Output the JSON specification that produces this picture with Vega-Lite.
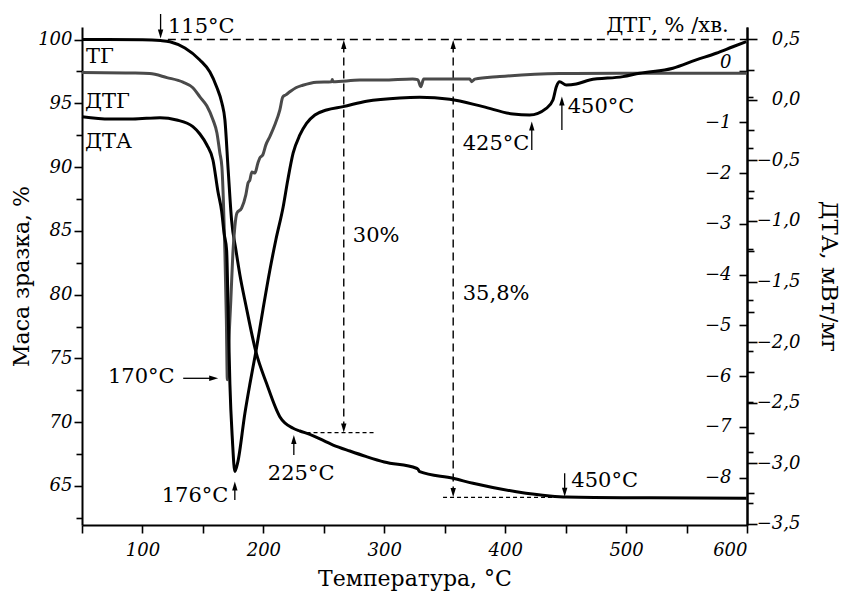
{
  "$schema": "https://vega.github.io/schema/vega-lite/v6.json",
  "width": 665,
  "height": 498,
  "autosize": {"type": "none"},
  "padding": {"left": 82, "top": 27, "right": 95, "bottom": 68},
  "background": "white",
  "datasets": {
    "tg": [
      {"T": 50, "m": 100.0}, {"T": 100, "m": 99.98}, {"T": 115, "m": 99.92}, {"T": 122.7, "m": 99.83},
      {"T": 135.1, "m": 99.33}, {"T": 147.5, "m": 98.39}, {"T": 155.8, "m": 97.45}, {"T": 161.3, "m": 96.3},
      {"T": 165.7, "m": 95.02}, {"T": 168.2, "m": 93.69}, {"T": 170.9, "m": 89.77}, {"T": 173.7, "m": 85.85},
      {"T": 177.3, "m": 83.5}, {"T": 180.6, "m": 81.54}, {"T": 185.5, "m": 79.19}, {"T": 193.8, "m": 75.53},
      {"T": 202.6, "m": 73.05}, {"T": 213.6, "m": 70.43}, {"T": 224.6, "m": 69.52}, {"T": 230.2, "m": 69.31},
      {"T": 238.4, "m": 69.05}, {"T": 257.7, "m": 68.21}, {"T": 271.5, "m": 67.74}, {"T": 285.3, "m": 67.3},
      {"T": 300.0, "m": 66.88}, {"T": 326.6, "m": 66.39}, {"T": 327.7, "m": 66.33}, {"T": 329.3, "m": 66.12},
      {"T": 356.9, "m": 65.6}, {"T": 373.4, "m": 65.21}, {"T": 409.3, "m": 64.55}, {"T": 436.9, "m": 64.22},
      {"T": 450.6, "m": 64.14}, {"T": 519.4, "m": 64.07}, {"T": 599.6, "m": 64.04}
    ],
    "dtg": [
      {"T": 50, "d": -0.02}, {"T": 89.7, "d": -0.03}, {"T": 106, "d": -0.04}, {"T": 120.2, "d": -0.12},
      {"T": 133.5, "d": -0.21}, {"T": 141.7, "d": -0.32}, {"T": 147.5, "d": -0.5}, {"T": 153.3, "d": -0.68},
      {"T": 158.3, "d": -0.95}, {"T": 161.6, "d": -1.21}, {"T": 164, "d": -1.6}, {"T": 165.7, "d": -1.88},
      {"T": 167, "d": -2.59}, {"T": 168.2, "d": -3.57}, {"T": 169.4, "d": -4.89}, {"T": 170.2, "d": -6.07},
      {"T": 171.5, "d": -5.29}, {"T": 173.1, "d": -4.5}, {"T": 174.8, "d": -3.57}, {"T": 176.4, "d": -3.06},
      {"T": 178.1, "d": -2.79}, {"T": 182, "d": -2.69}, {"T": 185.5, "d": -2.43}, {"T": 187.4, "d": -2.19},
      {"T": 188.8, "d": -2.14}, {"T": 190.5, "d": -1.98}, {"T": 193, "d": -2.0}, {"T": 195.5, "d": -1.8},
      {"T": 197.1, "d": -1.7}, {"T": 199.6, "d": -1.64}, {"T": 202, "d": -1.45}, {"T": 205.4, "d": -1.28},
      {"T": 209.5, "d": -1.05}, {"T": 213.6, "d": -0.76}, {"T": 216.1, "d": -0.5}, {"T": 218.6, "d": -0.46},
      {"T": 221.9, "d": -0.4}, {"T": 226.9, "d": -0.32}, {"T": 232.6, "d": -0.27}, {"T": 244, "d": -0.21},
      {"T": 256.4, "d": -0.2}, {"T": 257, "d": -0.16}, {"T": 257.6, "d": -0.2}, {"T": 279.8, "d": -0.17},
      {"T": 298.8, "d": -0.17}, {"T": 323.5, "d": -0.15}, {"T": 327.7, "d": -0.16}, {"T": 330.2, "d": -0.3},
      {"T": 332.6, "d": -0.15}, {"T": 345.9, "d": -0.15}, {"T": 370.7, "d": -0.15}, {"T": 372.3, "d": -0.2},
      {"T": 374.8, "d": -0.15}, {"T": 395.5, "d": -0.1}, {"T": 445, "d": -0.04}, {"T": 494.6, "d": -0.035},
      {"T": 600, "d": -0.035}
    ],
    "dta": [
      {"T": 50, "a": -0.138}, {"T": 73.1, "a": -0.157}, {"T": 92.1, "a": -0.157}, {"T": 114.5, "a": -0.146},
      {"T": 128.3, "a": -0.165}, {"T": 141.7, "a": -0.221}, {"T": 147.5, "a": -0.281}, {"T": 153.3, "a": -0.372},
      {"T": 158.3, "a": -0.496}, {"T": 162.5, "a": -0.76}, {"T": 165.5, "a": -0.92}, {"T": 167.5, "a": -1.1},
      {"T": 169.6, "a": -1.24}, {"T": 171, "a": -1.8}, {"T": 172.3, "a": -2.34}, {"T": 174.4, "a": -2.81},
      {"T": 176.4, "a": -3.07}, {"T": 178.9, "a": -2.99}, {"T": 184.7, "a": -2.59}, {"T": 188.8, "a": -2.35},
      {"T": 193.8, "a": -2.08}, {"T": 199.6, "a": -1.735}, {"T": 205.4, "a": -1.405}, {"T": 210.3, "a": -1.157},
      {"T": 216.4, "a": -0.882}, {"T": 220.2, "a": -0.661}, {"T": 224.6, "a": -0.44}, {"T": 230.2, "a": -0.289},
      {"T": 235.7, "a": -0.193}, {"T": 242.6, "a": -0.124}, {"T": 252.2, "a": -0.083}, {"T": 266, "a": -0.055},
      {"T": 285.3, "a": -0.01}, {"T": 312.8, "a": 0.017}, {"T": 329.3, "a": 0.022}, {"T": 354.1, "a": 0.006},
      {"T": 381.7, "a": -0.055}, {"T": 406.5, "a": -0.116}, {"T": 420.2, "a": -0.124}, {"T": 434, "a": -0.069},
      {"T": 439.5, "a": 0.0}, {"T": 442.3, "a": 0.11}, {"T": 445, "a": 0.151}, {"T": 450.5, "a": 0.124},
      {"T": 458.8, "a": 0.132}, {"T": 469.8, "a": 0.165}, {"T": 497.4, "a": 0.193}, {"T": 511.2, "a": 0.221},
      {"T": 538.7, "a": 0.262}, {"T": 558, "a": 0.331}, {"T": 574.5, "a": 0.386}, {"T": 588.3, "a": 0.44},
      {"T": 599.3, "a": 0.482}
    ],
    "dashLong": [
      {"T": 121, "m": 100, "T2": 600, "m2": 100},
      {"T": 266.5, "m": 99.61, "T2": 266.5, "m2": 69.54},
      {"T": 357, "m": 99.61, "T2": 357, "m2": 64.49}
    ],
    "dashShort": [
      {"T": 235.7, "m": 69.18, "T2": 292, "m2": 69.18},
      {"T": 348.6, "m": 64.11, "T2": 450.6, "m2": 64.11}
    ],
    "arrows": [
      {"T": 115, "m": 102.0, "T2": 115, "m2": 100.43},
      {"T": 422, "m": 91.34, "T2": 422, "m2": 93.21},
      {"T": 446.9, "m": 92.91, "T2": 446.9, "m2": 95.17},
      {"T": 449.2, "m": 66.0, "T2": 449.2, "m2": 64.51},
      {"T": 133.7, "m": 73.44, "T2": 158.9, "m2": 73.44},
      {"T": 176.4, "m": 63.9, "T2": 176.4, "m2": 64.99},
      {"T": 225.2, "m": 67.43, "T2": 225.2, "m2": 68.65}
    ],
    "heads": [
      {"T": 115, "m": 100.43, "dir": "down"},
      {"T": 266.5, "m": 99.61, "dir": "up"},
      {"T": 266.5, "m": 69.54, "dir": "down"},
      {"T": 357, "m": 99.61, "dir": "up"},
      {"T": 357, "m": 64.49, "dir": "down"},
      {"T": 422, "m": 93.21, "dir": "up"},
      {"T": 446.9, "m": 95.17, "dir": "up"},
      {"T": 449.2, "m": 64.51, "dir": "down"},
      {"T": 158.9, "m": 73.44, "dir": "right"},
      {"T": 176.4, "m": 64.99, "dir": "up"},
      {"T": 225.2, "m": 68.65, "dir": "up"}
    ],
    "labels": [
      {"T": 121.1, "m": 100.5, "label": "115°C"},
      {"T": 53.3, "m": 98.16, "label": "ТГ"},
      {"T": 52.5, "m": 94.63, "label": "ДТГ"},
      {"T": 52.5, "m": 91.5, "label": "ДТА"},
      {"T": 274, "m": 84.1, "label": "30%"},
      {"T": 364.9, "m": 79.6, "label": "35,8%"},
      {"T": 364.9, "m": 91.34, "label": "425°C"},
      {"T": 451.7, "m": 94.24, "label": "450°C"},
      {"T": 454.7, "m": 64.92, "label": "450°C"},
      {"T": 203.7, "m": 65.47, "label": "225°C"},
      {"T": 71.5, "m": 73.07, "label": "170°C"},
      {"T": 115.9, "m": 63.75, "label": "176°C"},
      {"T": 483.6, "m": 100.59, "label": "ДТГ, % /хв."}
    ]
  },
  "encoding": {
    "x": {
      "field": "T",
      "type": "quantitative",
      "scale": {"domain": [50, 600], "nice": false, "zero": false},
      "axis": {
        "title": "Температура, °С",
        "values": [50, 100, 150, 200, 250, 300, 350, 400, 450, 500, 550, 600],
        "labelExpr": "datum.value % 100 === 0 ? format(datum.value, 'd') : ''",
        "tickSize": 8,
        "labelPadding": 8,
        "titlePadding": 9
      }
    }
  },
  "layer": [
    {
      "encoding": {
        "y": {
          "field": "m",
          "type": "quantitative",
          "scale": {"domain": [61.94, 100.98], "nice": false, "zero": false},
          "axis": {
            "title": "Маса зразка, %",
            "values": [62.5, 65, 67.5, 70, 72.5, 75, 77.5, 80, 82.5, 85, 87.5, 90, 92.5, 95, 97.5, 100],
            "labelExpr": "datum.value % 5 === 0 ? format(datum.value, 'd') : ''",
            "tickSize": {"condition": {"test": "datum.value % 5 !== 0", "value": 6}, "value": 8},
            "labelPadding": 2,
            "titlePadding": 4
          }
        }
      },
      "layer": [
        {"data": {"name": "tg"}, "mark": {"type": "line", "color": "black", "strokeWidth": 3, "interpolate": "monotone"}},
        {"data": {"name": "dashLong"}, "mark": {"type": "rule", "color": "black", "strokeWidth": 1.4, "strokeDash": [8, 5]},
         "encoding": {"x2": {"field": "T2"}, "y2": {"field": "m2"}}},
        {"data": {"name": "dashShort"}, "mark": {"type": "rule", "color": "black", "strokeWidth": 1.2, "strokeDash": [4, 3]},
         "encoding": {"x2": {"field": "T2"}, "y2": {"field": "m2"}}},
        {"data": {"name": "arrows"}, "mark": {"type": "rule", "color": "black", "strokeWidth": 1.3},
         "encoding": {"x2": {"field": "T2"}, "y2": {"field": "m2"}}},
        {"data": {"name": "heads"}, "mark": {"type": "point", "filled": true, "color": "black", "opacity": 1, "size": 81, "strokeWidth": 0},
         "encoding": {"shape": {"field": "dir", "type": "nominal", "legend": null,
           "scale": {"domain": ["up", "down", "right"], "range": ["M0,-1L0.6,1L-0.6,1Z", "M0,1L0.6,-1L-0.6,-1Z", "M1,0L-1,0.6L-1,-0.6Z"]}}}},
        {"data": {"name": "labels"}, "mark": {"type": "text", "align": "left", "baseline": "alphabetic", "font": "DejaVu Serif", "fontSize": 21, "color": "black"},
         "encoding": {"text": {"field": "label"}}}
      ]
    },
    {
      "data": {"name": "dtg"},
      "mark": {"type": "line", "color": "#4a4a4a", "strokeWidth": 3, "interpolate": "monotone"},
      "encoding": {
        "y": {
          "field": "d",
          "type": "quantitative",
          "scale": {"domain": [-8.93, 0.876], "nice": false, "zero": false},
          "axis": {
            "orient": "left",
            "offset": -665,
            "title": null,
            "values": [-8.5, -8, -7.5, -7, -6.5, -6, -5.5, -5, -4.5, -4, -3.5, -3, -2.5, -2, -1.5, -1, -0.5, 0],
            "labelExpr": "datum.value === 0 ? '0' : (datum.value % 1 === 0 ? '−' + format(-datum.value, 'd') : '')",
            "tickSize": {"condition": {"test": "datum.value % 1 !== 0", "value": -6}, "value": 8},
            "labelPadding": 8,
            "labelBaseline": {"condition": {"test": "datum.value === 0", "value": "bottom"}, "value": "middle"}
          }
        }
      }
    },
    {
      "data": {"name": "dta"},
      "mark": {"type": "line", "color": "black", "strokeWidth": 3, "interpolate": "monotone"},
      "encoding": {
        "y": {
          "field": "a",
          "type": "quantitative",
          "scale": {"domain": [-3.512, 0.603], "nice": false, "zero": false},
          "axis": {
            "orient": "right",
            "title": "ДТА, мВт/мг",
            "values": [-3.5, -3.25, -3, -2.75, -2.5, -2.25, -2, -1.75, -1.5, -1.25, -1, -0.75, -0.5, -0.25, 0, 0.25, 0.5],
            "labelExpr": "abs(datum.value % 0.5) < 1e-9 ? (datum.value < 0 ? '−' : '') + replace(format(abs(datum.value), '.1f'), '.', ',') : ''",
            "tickSize": {"condition": {"test": "abs(datum.value % 0.5) > 1e-9", "value": 7}, "value": 10},
            "labelAlign": "right",
            "labelPadding": 43,
            "titlePadding": 16,
            "titleFontSize": 23
          }
        }
      }
    }
  ],
  "resolve": {"scale": {"y": "independent"}, "axis": {"y": "independent"}},
  "config": {
    "view": {"stroke": null},
    "axis": {
      "grid": false,
      "domainColor": "black",
      "domainWidth": 2,
      "tickColor": "black",
      "tickWidth": 1.6,
      "labelColor": "black",
      "labelFont": "DejaVu Serif",
      "labelFontStyle": "italic",
      "labelFontSize": 18,
      "titleFont": "DejaVu Serif",
      "titleFontWeight": "normal",
      "titleFontSize": 22,
      "titleColor": "black"
    }
  }
}
